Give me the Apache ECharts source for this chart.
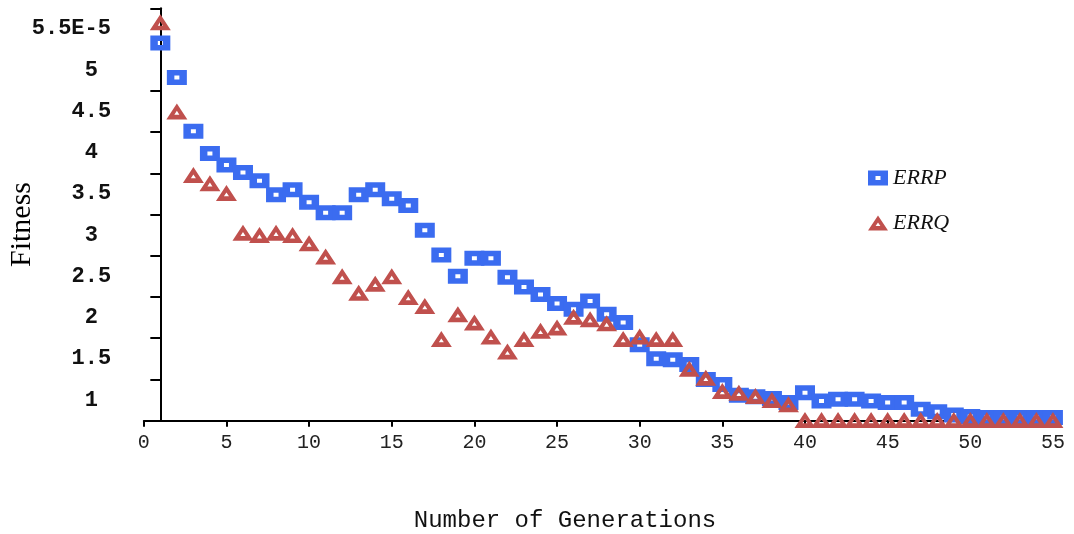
<!DOCTYPE html>
<html>
<head>
<meta charset="utf-8">
<script src="https://cdn.jsdelivr.net/npm/echarts@6/dist/echarts.min.js"></script>
<style>
  html, body { margin: 0; padding: 0; background: #ffffff; }
  #chart { width: 1074px; height: 534px; }
</style>
</head>
<body>
<div id="chart"></div>
<script>
// Generation index (x) and best fitness per generation for the two runs
const generations = [
  1, 2, 3, 4, 5, 6, 7, 8, 9, 10,
  11, 12, 13, 14, 15, 16, 17, 18, 19, 20,
  21, 22, 23, 24, 25, 26, 27, 28, 29, 30,
  31, 32, 33, 34, 35, 36, 37, 38, 39, 40,
  41, 42, 43, 44, 45, 46, 47, 48, 49, 50,
  51, 52, 53, 54, 55
];

const errp = [
  5.33, 4.91, 4.26, 3.99, 3.85, 3.76, 3.66, 3.49, 3.55, 3.40,
  3.27, 3.27, 3.49, 3.55, 3.44, 3.36, 3.06, 2.76, 2.50, 2.72,
  2.72, 2.49, 2.37, 2.28, 2.17, 2.10, 2.20, 2.04, 1.94, 1.67,
  1.50, 1.49, 1.43, 1.25, 1.19, 1.06, 1.04, 1.02, 0.97, 1.09,
  0.99, 1.01, 1.01, 0.99, 0.97, 0.97, 0.89, 0.86, 0.82, 0.80,
  0.79, 0.79, 0.79, 0.79, 0.79
];

const errq = [
  5.58, 4.50, 3.73, 3.63, 3.51, 3.03, 3.00, 3.03, 3.00, 2.90,
  2.74, 2.50, 2.30, 2.41, 2.50, 2.25, 2.14, 1.74, 2.04, 1.94,
  1.77, 1.59, 1.74, 1.84, 1.88, 2.01, 1.98, 1.93, 1.74, 1.77,
  1.74, 1.74, 1.38, 1.27, 1.11, 1.09, 1.05, 1.00, 0.95, 0.76,
  0.76, 0.76, 0.76, 0.76, 0.76, 0.76, 0.76, 0.76, 0.76, 0.76,
  0.76, 0.76, 0.76, 0.76, 0.76
];

const seriesNames = ['ERRP', 'ERRQ'];

// Axis ticks and labels
const xTickValues = [0, 5, 10, 15, 20, 25, 30, 35, 40, 45, 50, 55];
const yLabelValues = [1, 1.5, 2, 2.5, 3, 3.5, 4, 4.5, 5, 5.5];
const yTickValues = [1.25, 1.75, 2.25, 2.75, 3.25, 3.75, 4.25, 4.75, 5.75];

// Hollow markers: outer shape with an opposite-wound inner hole
const squareMarker = 'path://M0,0H20V15H0Z M7.5,5.5V9.5H12.5V5.5Z';
const triangleMarker = 'path://M10,0L20,15H0Z M10,7L7.6,10.6H12.4Z';

const blue = '#3b6cf0';
const red = '#c0504d';
const mono = '"Liberation Mono", "Courier New", monospace';
const serif = '"Liberation Serif", "Times New Roman", serif';

const chart = echarts.init(document.getElementById('chart'), null, { renderer: 'canvas' });

chart.setOption({
  animation: false,
  backgroundColor: '#ffffff',
  grid: {
    left: 143.8, right: 12.8, top: 8.3, bottom: 113.3,
    containLabel: false,
    outerBoundsMode: 'none'
  },
  legend: {
    orient: 'vertical',
    left: 868,
    top: 167,
    padding: 0,
    itemWidth: 20,
    itemHeight: 15,
    itemGap: 23,
    selectedMode: false,
    data: seriesNames,
    textStyle: {
      fontFamily: serif,
      fontStyle: 'italic',
      fontSize: 22,
      color: '#111111'
    }
  },
  xAxis: {
    type: 'value',
    min: 0,
    max: 55.5,
    name: 'Number of Generations',
    nameLocation: 'middle',
    nameGap: 88,
    nameMoveOverlap: false,
    nameTextStyle: {
      fontFamily: mono,
      fontSize: 24,
      color: '#111111',
      padding: [0, 75, 0, 0]
    },
    splitLine: { show: false },
    axisLine: { onZero: false, lineStyle: { color: '#000000', width: 2 } },
    axisTick: { customValues: xTickValues, length: 6, lineStyle: { color: '#000000', width: 2 } },
    axisLabel: {
      customValues: xTickValues,
      margin: 12,
      fontFamily: mono,
      fontSize: 20,
      color: '#222222'
    }
  },
  yAxis: {
    type: 'value',
    min: 0.75,
    max: 5.75,
    offset: -16.53,
    name: 'Fitness',
    nameLocation: 'middle',
    nameGap: 123,
    nameMoveOverlap: false,
    nameTextStyle: {
      fontFamily: serif,
      fontSize: 30,
      color: '#000000',
      padding: [0, 20, 0, 0]
    },
    splitLine: { show: false },
    axisLine: { show: true, onZero: false, lineStyle: { color: '#000000', width: 2 } },
    axisTick: { customValues: yTickValues, length: 10, lineStyle: { color: '#000000', width: 2 } },
    axisLabel: {
      customValues: yLabelValues,
      margin: 69,
      align: 'center',
      fontFamily: mono,
      fontWeight: 'bold',
      fontSize: 22,
      color: '#111111',
      formatter: function (v) {
        return v === 5.5 ? '{top|5.5E-5}' : String(v);
      },
      rich: {
        top: {
          fontFamily: mono,
          fontWeight: 'bold',
          fontSize: 22,
          color: '#111111',
          padding: [0, 40, 0, 0]
        }
      }
    }
  },
  series: [
    {
      name: seriesNames[0],
      type: 'scatter',
      symbol: squareMarker,
      symbolSize: [20, 15],
      itemStyle: { color: blue, opacity: 1 },
      emphasis: { disabled: true },
      silent: true,
      data: generations.map((g, i) => [g, errp[i]])
    },
    {
      name: seriesNames[1],
      type: 'scatter',
      symbol: triangleMarker,
      symbolSize: [21, 16],
      itemStyle: { color: red, opacity: 1 },
      emphasis: { disabled: true },
      silent: true,
      data: generations.map((g, i) => [g, errq[i]])
    }
  ]
});
</script>
</body>
</html>
